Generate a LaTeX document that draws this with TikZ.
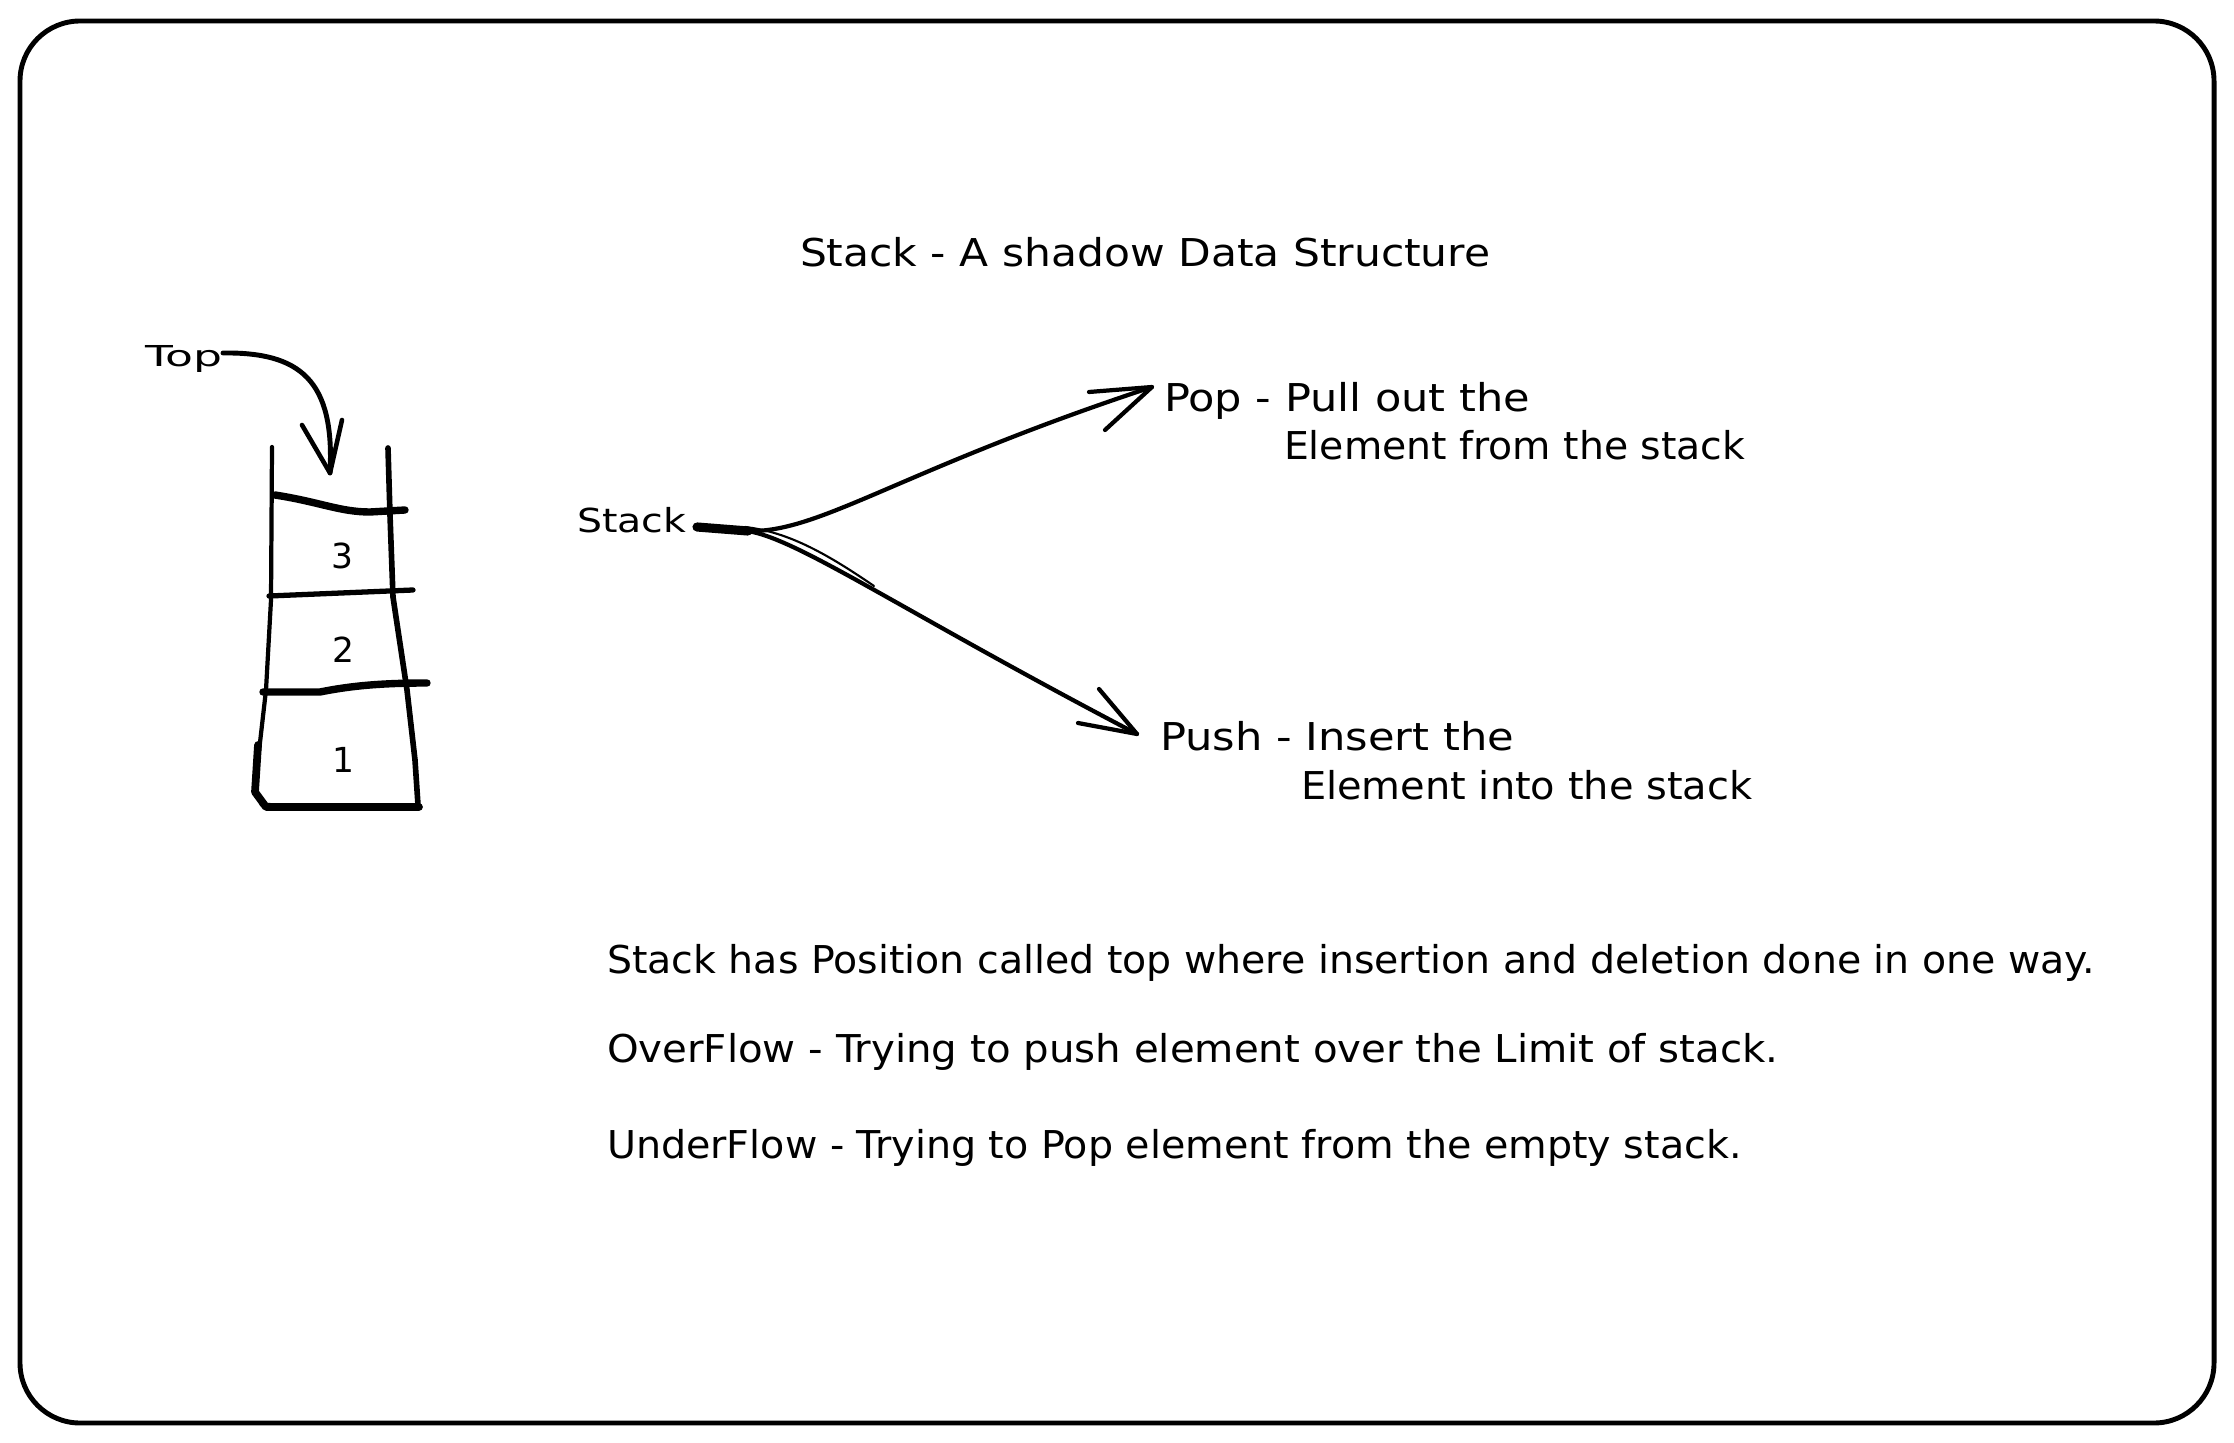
\documentclass[tikz,border=0pt]{standalone}
\usepackage{fontspec}
\setmainfont{DejaVu Sans}
\usepackage{graphicx}
\newcommand{\fitw}[2]{\resizebox{#1}{\height}{#2}}
\newcommand{\fA}{\fontsize{10.9pt}{13pt}\selectfont}
\newcommand{\fB}{\fontsize{9.4pt}{11pt}\selectfont}
\newcommand{\fC}{\fontsize{8.2pt}{10pt}\selectfont}
\begin{document}
\begin{tikzpicture}[x=0.01cm,y=-0.01cm,
  txt/.style={anchor=base west,inner sep=0pt,outer sep=0pt},
  ink/.style={line width=1.2pt,line cap=round,line join=round},
  thk/.style={line width=2pt,line cap=round,line join=round},
  digit/.style={anchor=base,inner sep=0pt,font=\fontsize{9.8pt}{11pt}\selectfont}]
\useasboundingbox (0,0) rectangle (2234,1443);
% frame
\draw[line width=1.4pt,rounded corners=0.6cm] (20,21) rectangle (2214,1423);

% title
\node[txt,font=\fA] (title) at (800,267) {\fitw{6.9cm}{Stack - A shadow Data Structure}};

% Top label and arrow
\node[txt,font=\fC] (top) at (145,367) {\fitw{0.77cm}{Top}};
\coordinate (ts) at (223,353);
\coordinate (toptip) at (330,473);
\coordinate (tb1) at (302,425);
\coordinate (tb2) at (342,420);
\draw[ink,line width=1.4pt] (ts) .. controls (300,352) and (335,380) .. (toptip);
\draw[ink,line width=1.3pt] (tb1) -- (toptip) -- (tb2);

% stack drawing
\draw[ink] (272,447) -- (271,600) -- (266,690) -- (258,760) -- (256,790) -- (262,805) -- (418,807);
\draw[ink,line width=2.2pt] (258,745) -- (255,792) -- (266,807) -- (419,807);
\draw[ink,line width=1.6pt] (388,448) -- (390,515) -- (393,597) -- (407,690) -- (415,760) -- (418,805);
\draw[thk,line width=2.1pt] (275,495) .. controls (320,502) and (340,512) .. (370,512) -- (405,510);
\draw[thk,line width=1.5pt] (269,596) -- (413,590);
\draw[thk,line width=2.1pt] (263,692) -- (320,692) .. controls (350,686) and (380,683) .. (427,683);
\node[digit] (n3) at (342,568) {3};
\node[digit] (n2) at (343,662) {2};
\node[digit] (n1) at (343,772) {1};

% Stack label and arrows
\node[txt,font=\fB] (stk) at (577,533) {\fitw{1.09cm}{Stack}};
\coordinate (s0) at (697,527);
\coordinate (jn) at (748,531);
\coordinate (poptip) at (1152,387);
\coordinate (pb1) at (1089,392);
\coordinate (pb2) at (1105,430);
\coordinate (pushtip) at (1137,734);
\coordinate (qb1) at (1099,689);
\coordinate (qb2) at (1078,723);
\draw[ink,line width=2.6pt] (s0) -- (jn);
\draw[ink] (jn) .. controls (820,533) and (900,470) .. (poptip);
\draw[ink] (pb1) -- (poptip) -- (pb2);
\draw[ink] (jn) .. controls (800,540) and (900,610) .. (pushtip);
\draw[line width=0.6pt,line cap=round] (745,527) .. controls (790,532) and (830,556) .. (874,586);
\draw[ink] (qb1) -- (pushtip) -- (qb2);

% Pop / Push texts
\node[txt,font=\fA] (pop1) at (1164,412) {\fitw{3.66cm}{Pop - Pull out the}};
\node[txt,font=\fA] (pop2) at (1284,460) {\fitw{4.61cm}{Element from the stack}};
\node[txt,font=\fA] (push1) at (1160,751) {\fitw{3.54cm}{Push - Insert the}};
\node[txt,font=\fA] (push2) at (1301,799) {\fitw{4.51cm}{Element into the stack}};

% bottom lines
\node[txt,font=\fA] (l1) at (607,973) {\fitw{14.87cm}{Stack has Position called top where insertion and deletion done in one way.}};
\node[txt,font=\fA] (l2) at (607,1062) {\fitw{11.71cm}{OverFlow - Trying to push element over the Limit of stack.}};
\node[txt,font=\fA] (l3) at (607,1158) {\fitw{11.34cm}{UnderFlow - Trying to Pop element from the empty stack.}};
\end{tikzpicture}
\end{document}
